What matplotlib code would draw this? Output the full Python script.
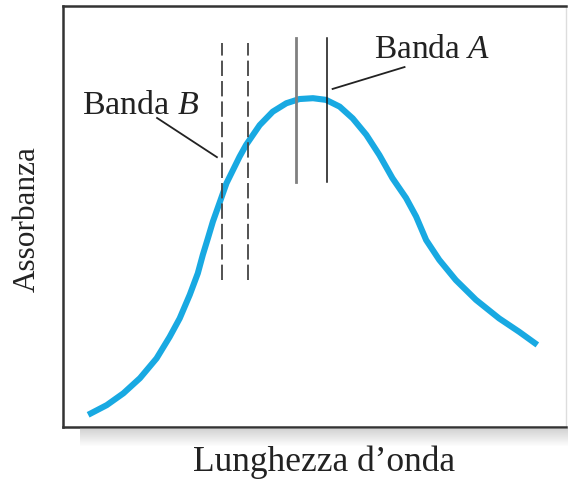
import numpy as np
import matplotlib
matplotlib.use("Agg")
import matplotlib.pyplot as plt
from matplotlib.patches import Rectangle

plt.rcParams['font.family'] = ['Liberation Serif', 'DejaVu Serif']
plt.rcParams['mathtext.fontset'] = 'custom'
plt.rcParams['mathtext.rm'] = 'Liberation Serif'
plt.rcParams['mathtext.it'] = 'Liberation Serif:italic'

# absorption band (wavelength in arbitrary units, absorbance normalised)
wavelength = [5.0, 8.7, 12.0, 15.3, 18.6, 21.2, 23.2, 25.2, 26.8, 27.8, 28.8, 29.8,
              31.2, 32.5, 35.1, 36.4, 39.1, 41.7, 44.4, 47.0, 49.7, 52.3, 55.0,
              57.6, 60.3, 62.9, 65.5, 68.2, 70.2, 72.2, 74.8, 78.1, 82.1, 86.7,
              90.7, 94.3]
absorbance = [0.029, 0.052, 0.080, 0.116, 0.163, 0.214, 0.258, 0.314, 0.365, 0.409,
              0.448, 0.488, 0.535, 0.579, 0.642, 0.670, 0.717, 0.749, 0.769, 0.779,
              0.781, 0.777, 0.761, 0.733, 0.694, 0.646, 0.591, 0.544, 0.500, 0.444,
              0.397, 0.349, 0.302, 0.258, 0.226, 0.195]

# band positions
band_b = [31.7, 36.7]
band_a = [46.4, 52.4]

fig = plt.figure(figsize=(5.68, 4.79), dpi=100)
ax = fig.add_axes([63 / 568, 52 / 479, 503 / 568, 421 / 479])

ax.plot(wavelength, absorbance, color='#18a9e2', lw=4.4,
        solid_capstyle='butt', solid_joinstyle='round', zorder=3)

# band B: dashed
for x in band_b:
    ax.plot([x, x], [0.349, 0.912], color='#444444', lw=1.3,
            dashes=(8.5, 2.8), zorder=4)
# band A: solid
ax.plot([band_a[0]] * 2, [0.582, 0.924], color='#808080', lw=2.0, zorder=4)
ax.plot([band_a[1]] * 2, [0.582, 0.924], color='#111111', lw=1.1, zorder=4)

# labels with leader lines
ax.text(61.9, 0.895, 'Banda $A$', fontsize=24, color='#222222',
        ha='left', va='center')
ax.plot([67.9, 53.6], [0.855, 0.803], color='#222222', lw=1.3)
ax.text(3.8, 0.762, 'Banda $B$', fontsize=24.5, color='#222222',
        ha='left', va='center')
ax.plot([18.7, 30.6], [0.734, 0.641], color='#222222', lw=1.3)

ax.set_xlim(0, 100)
ax.set_ylim(0, 1)
ax.set_xticks([])
ax.set_yticks([])
for side in ['left', 'top', 'bottom']:
    ax.spines[side].set_linewidth(1.8)
    ax.spines[side].set_color('#333333')
ax.spines['right'].set_color('#dddddd')
ax.spines['right'].set_linewidth(1.0)

fig.text(324 / 568, 1 - 462 / 479, 'Lunghezza d\u2019onda', fontsize=25.5,
         color='#222222', ha='center', va='center')
fig.text(27 / 568, 1 - 219 / 479, 'Assorbanza', fontsize=22.5, rotation=90,
         color='#222222', ha='center', va='center')

# soft shadow under the frame
for i in range(18):
    fig.patches.append(Rectangle((80 / 568, (50 - i) / 479), 488 / 568, 1 / 479,
                                 transform=fig.transFigure, color='#9a9a9a',
                                 alpha=0.45 * (1 - i / 18), lw=0, zorder=0))

fig.savefig('out.png', dpi=100)
